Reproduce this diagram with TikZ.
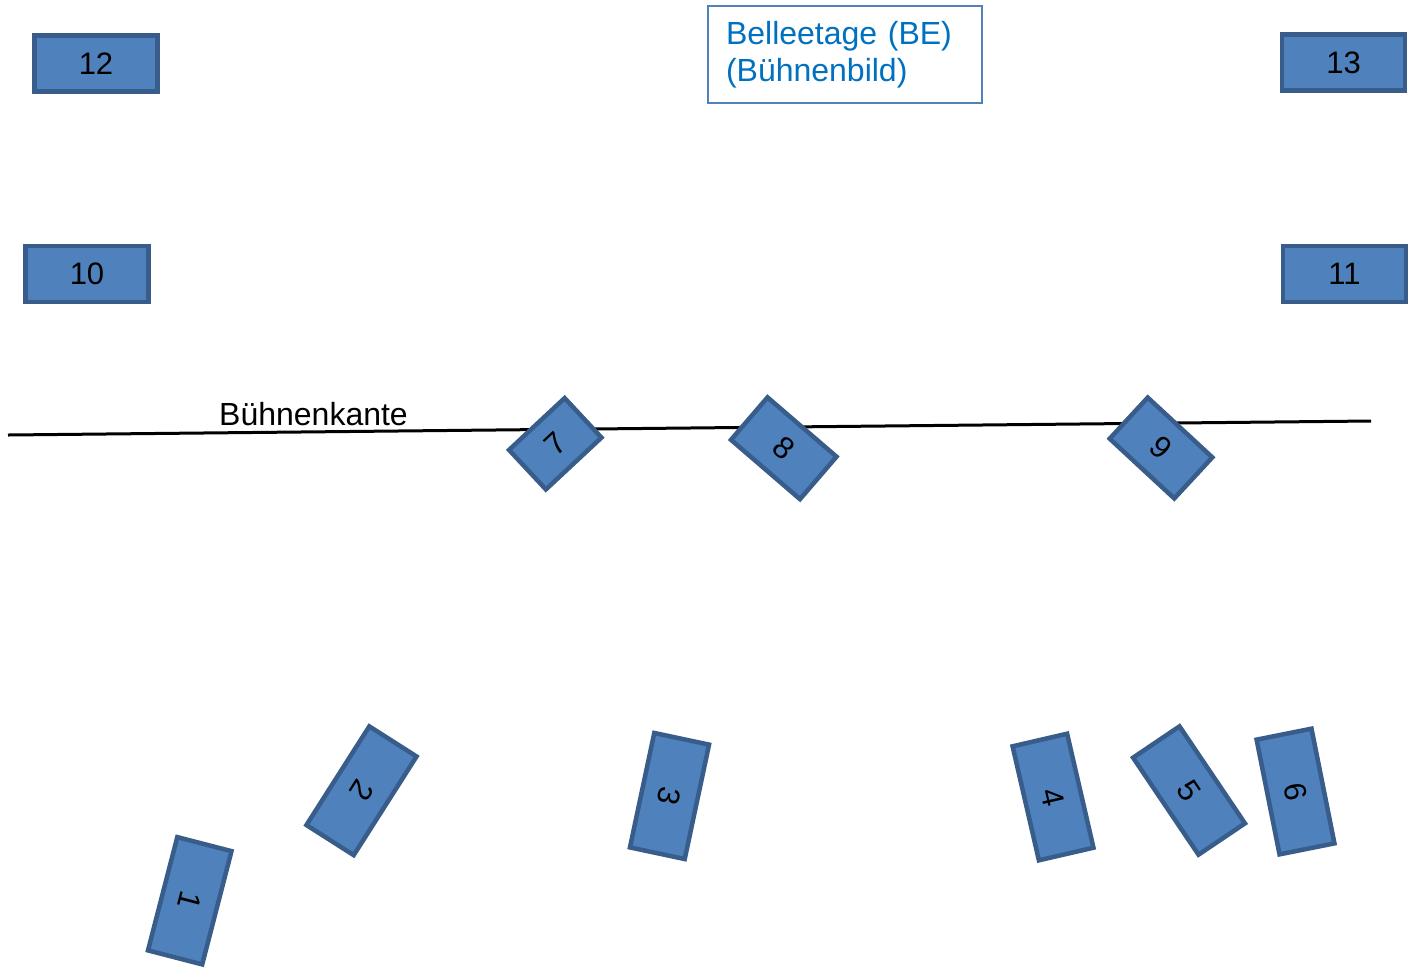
\documentclass[tikz,border=0pt]{standalone}
\usepackage{fontspec}
\setmainfont{Liberation Sans}
\definecolor{boxfill}{HTML}{4F81BD}
\definecolor{boxline}{HTML}{385D8A}
\definecolor{betext}{HTML}{0070C0}
\begin{document}
\begin{tikzpicture}[x=1pt,y=-1pt,
  seat/.style={draw=boxline,fill=boxfill,line width=4.5pt,inner sep=0pt,
    minimum width=#1,minimum height=56pt,font=\fontsize{31}{37}\selectfont},
  seat/.default=117pt,
  flat/.style={seat=123pt}]
\useasboundingbox (0,0) rectangle (1415,970);
% stage edge
\coordinate (L1) at (8,435);
\coordinate (L2) at (1371,421);
\draw[line width=3pt] (L1) -- (L2);
\node[anchor=base west,inner sep=0pt,font=\fontsize{32}{38}\selectfont] (bk) at (219,425) {Bühnenkante};
% Belleetage label
\node[draw=boxfill,line width=1.5pt,minimum width=274pt,minimum height=97pt,
  text width=238pt,inner xsep=18pt,align=left,text=betext,
  font=\fontsize{32}{37}\selectfont] (be) at (845,54.5) {Belleetage (BE)\\(Bühnenbild)};
% upper boxes
\node[flat] (b12) at (96,63.5) {12};
\node[flat] (b13) at (1343.5,62.5) {13};
\node[flat] (b10) at (87,274) {10};
\node[flat] (b11) at (1344.5,274) {11};
% boxes on the stage edge
\node[seat=76pt,minimum height=54pt,rotate=43] (b7) at (555.25,443.75) {7};
\node[seat=91pt,minimum height=56pt,rotate=-40.7] (b8) at (783.75,448.25) {8};
\node[seat=88pt,rotate=-42.8] (b9) at (1161,448) {9};
% lower boxes
\node[seat,rotate=-104.5] (b1) at (189.75,900.75) {1};
\node[seat,rotate=-122.5] (b2) at (361.5,790.75) {2};
\node[seat,rotate=-102] (b3) at (669.5,796) {3};
\node[seat,rotate=-77] (b4) at (1053,797) {4};
\node[seat,rotate=-56] (b5) at (1189,790.5) {5};
\node[seat,rotate=-78.7] (b6) at (1295.5,791.5) {6};
\end{tikzpicture}
\end{document}
